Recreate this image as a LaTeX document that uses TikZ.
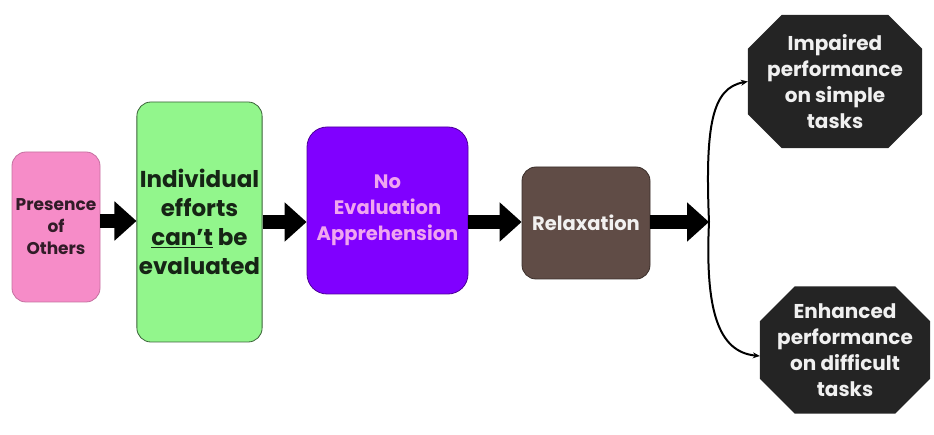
\documentclass[tikz,border=0pt]{standalone}
\usepackage{fontspec}
\setmainfont{Poppins}
\usetikzlibrary{arrows.meta,backgrounds}
\definecolor{pinkbox}{RGB}{246,140,200}
\definecolor{greenbox}{RGB}{146,246,140}
\definecolor{purplebox}{RGB}{128,0,255}
\definecolor{brownbox}{RGB}{96,76,70}
\definecolor{octbox}{RGB}{36,36,36}
\definecolor{pinktext}{RGB}{240,165,240}
\tikzset{
  stagebox/.style={rounded corners=14pt,line width=0.8pt,align=center,font=\bfseries,inner sep=2pt},
  outcome/.style={inner sep=0pt,text=white!94!black,align=center,font=\fontsize{20}{26}\selectfont\bfseries},
  bigarrow/.style={line width=14pt,-{Triangle[length=22pt,width=38pt]}},
  split/.style={line width=2pt,-{Stealth[length=7pt,width=6pt]}}
}
% octagon behind an outcome node: #1 node name, #2 cut size
\newcommand\octagonfill[2]{\fill[octbox] ([xshift=#2pt]#1.north west) -- ([xshift=-#2pt]#1.north east)
  -- ([yshift=-#2pt]#1.north east) -- ([yshift=#2pt]#1.south east) -- ([xshift=-#2pt]#1.south east)
  -- ([xshift=#2pt]#1.south west) -- ([yshift=#2pt]#1.south west) -- ([yshift=-#2pt]#1.north west) -- cycle;}
\begin{document}
\begin{tikzpicture}[x=1pt,y=-1pt]
  \useasboundingbox (0,0) rectangle (934,435);
  \node[stagebox,fill=pinkbox,draw=pinkbox!80!black,text=black!80!pinkbox,minimum width=88pt,minimum height=150pt,
    font=\fontsize{17}{22}\selectfont\bfseries] (others) at (56,227) {Presence\\of\\Others};
  \node[stagebox,fill=greenbox,draw=greenbox!40!black,text=black!85!greenbox,minimum width=121pt,minimum height=240pt,
    font=\fontsize{23}{29}\selectfont\bfseries] (efforts) at (199.5,222) {Individual\\efforts\\\underline{can’t} be\\evaluated};
  \node[stagebox,rounded corners=20pt,fill=purplebox,draw=purplebox!60!black,text=pinktext,minimum width=161pt,minimum height=167pt,
    font=\fontsize{19.5}{26}\selectfont\bfseries] (noeval) at (387.5,210.5) {No\\Evaluation\\Apprehension};
  \node[stagebox,fill=brownbox,draw=brownbox!60!black,text=white!92!brownbox,minimum width=128pt,minimum height=112pt,
    font=\fontsize{19.5}{26}\selectfont\bfseries] (relax) at (586,223) {Relaxation};
  \node[outcome,minimum width=174pt,minimum height=133pt] (impaired) at (835,81.5) {Impaired\\performance\\on simple\\tasks};
  \node[outcome,minimum width=170pt,minimum height=127pt] (enhanced) at (845,350) {Enhanced\\performance\\on difficult\\tasks};
  \begin{scope}[on background layer]
    \octagonfill{impaired}{34}
    \octagonfill{enhanced}{35}
  \end{scope}
  \coordinate (fork) at (709,222);
  % thick arrows
  \draw[bigarrow] (others.east |- 0,221) -- (efforts.west |- 0,221);
  \draw[bigarrow] (efforts.east |- 0,222) -- (noeval.west |- 0,222);
  \draw[bigarrow] (noeval.east |- 0,222) -- (relax.west |- 0,222);
  \draw[bigarrow] (relax.east |- 0,222) -- (fork);
  % fork
  \draw[split] (fork) .. controls (705,125) and (712,88) .. (impaired.west);
  \draw[split] (fork) .. controls (705,310) and (718,352) .. ([yshift=-6pt]enhanced.west);
\end{tikzpicture}
\end{document}
